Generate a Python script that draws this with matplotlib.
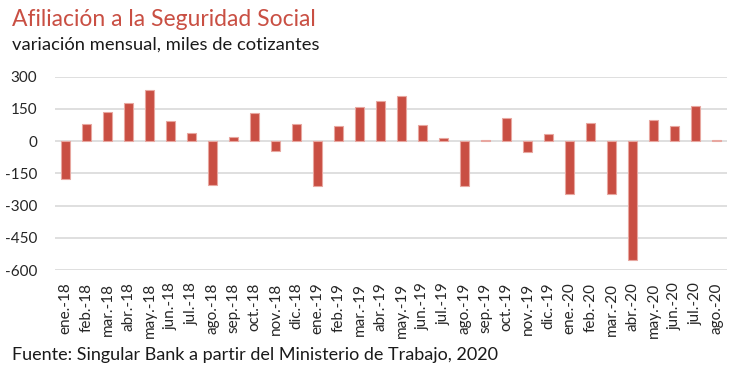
import matplotlib
matplotlib.use("Agg")
import matplotlib.pyplot as plt
import numpy as np

months = ["ene.-18","feb.-18","mar.-18","abr.-18","may.-18","jun.-18","jul.-18","ago.-18",
          "sep.-18","oct.-18","nov.-18","dic.-18","ene.-19","feb.-19","mar.-19","abr.-19",
          "may.-19","jun.-19","jul.-19","ago.-19","sep.-19","oct.-19","nov.-19","dic.-19",
          "ene.-20","feb.-20","mar.-20","abr.-20","may.-20","jun.-20","jul.-20","ago.-20"]
values = [-177, 79, 137, 176, 238, 93, 36, -202,
          20, 132, -47, 79, -207, 70, 157, 186,
          211, 75, 16, -211, 5, 109, -51, 33,
          -244, 84, -244, -552, 98, 70, 162, 5]
yticks = [300, 150, 0, -150, -300, -450, -600]

plt.rcParams['font.family'] = ['Lato', 'DejaVu Sans']

fig = plt.figure(figsize=(7.49, 3.77), dpi=100)
ax = fig.add_axes([55/749, 1-270/377, 672/749, (270-76.7)/377])

x = np.arange(len(months))
ax.bar(x, values, width=0.42, color="#C94F43", edgecolor="#E8A7A0", linewidth=0.8, zorder=3)

ax.set_xlim(-0.5, len(months)-0.5)
ax.set_ylim(-600, 300)
ax.set_yticks(yticks)
ax.set_yticklabels([str(v) for v in yticks], fontsize=11, color="#262626")
ax.set_xticks(x)
ax.set_xticklabels(months, rotation=90, fontsize=11, color="#262626")
ax.tick_params(axis='both', length=0)
ax.tick_params(axis='y', pad=13)
ax.tick_params(axis='x', pad=9)
ax.grid(axis='y', color="#D9D9D9", linewidth=1.2, zorder=0)
for s in ax.spines.values():
    s.set_visible(False)

fig.text(12/749, 1-20/377, "Afiliación a la Seguridad Social", fontsize=16.5, color="#C94F43",
         va="center", ha="left")
fig.text(12/749, 1-45/377, "variación mensual, miles de cotizantes", fontsize=13.2, color="#1a1a1a",
         va="center", ha="left")
fig.text(12/749, 1-355/377, "Fuente: Singular Bank a partir del Ministerio de Trabajo, 2020",
         fontsize=13, color="#1a1a1a", va="center", ha="left")

fig.savefig("out.png", dpi=100, facecolor="white")
